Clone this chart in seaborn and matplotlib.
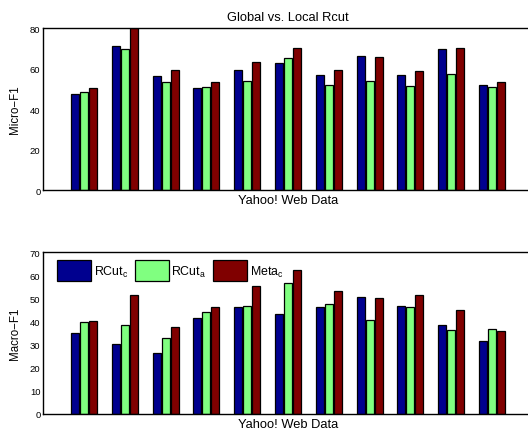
import numpy as np
import pandas as pd
import matplotlib
matplotlib.use('Agg')
import matplotlib.pyplot as plt
import seaborn as sns

# Values (11 Yahoo! web datasets)
datasets = ['D%d' % i for i in range(1, 12)]
methods = ['RCut$_c$', 'RCut$_a$', 'Meta$_c$']

micro_rcut_c = [47.3, 71.4, 56.3, 50.5, 59.6, 62.6, 56.9, 66.1, 56.8, 69.7, 52.1]
micro_rcut_a = [48.6, 70.0, 53.4, 50.8, 53.9, 65.1, 52.1, 53.8, 51.6, 57.6, 50.8]
micro_meta_c = [50.6, 80.0, 59.3, 53.6, 63.4, 70.2, 59.3, 65.6, 58.9, 70.4, 53.3]

macro_rcut_c = [34.9, 30.4, 26.2, 41.7, 46.1, 43.2, 46.4, 50.5, 46.7, 38.3, 31.5]
macro_rcut_a = [39.8, 38.3, 33.0, 44.3, 46.6, 56.7, 47.4, 40.5, 46.1, 36.3, 36.9]
macro_meta_c = [40.4, 51.6, 37.6, 46.1, 55.3, 62.3, 53.1, 50.0, 51.5, 45.0, 35.9]

colors = ['#00008F', '#80FF80', '#800000']

sns.set_style('white')
plt.rcParams['font.family'] = ['Liberation Sans', 'DejaVu Sans']
plt.rcParams['mathtext.fontset'] = 'custom'
plt.rcParams['mathtext.rm'] = 'Liberation Sans'
plt.rcParams['mathtext.it'] = 'Liberation Sans'
plt.rcParams['text.color'] = 'black'
plt.rcParams['axes.labelcolor'] = 'black'
plt.rcParams['ytick.color'] = 'black'
plt.rcParams['ytick.labelcolor'] = 'black'


def long_table(a, b, c):
    rows = []
    for vals, m in zip([a, b, c], methods):
        for d, v in zip(datasets, vals):
            rows.append({'dataset': d, 'method': m, 'value': v})
    return pd.DataFrame(rows)


fig = plt.figure(figsize=(5.28, 4.31), dpi=100)
ax1 = fig.add_axes([0.0818, 0.5568, 0.9273, 0.3752])
ax2 = fig.add_axes([0.0818, 0.0378, 0.9273, 0.3745])

panels = [
    (ax1, long_table(micro_rcut_c, micro_rcut_a, micro_meta_c), 'Micro\u2212F1', 80, 20),
    (ax2, long_table(macro_rcut_c, macro_rcut_a, macro_meta_c), 'Macro\u2212F1', 70, 10),
]

for ax, df, ylab, ymax, step in panels:
    sns.barplot(data=df, x='dataset', y='value', hue='method', palette=colors,
                width=0.66, gap=0.1, edgecolor='black', linewidth=0.9,
                saturation=1, ax=ax)
    ax.set_xlim(-1, 11)
    ax.set_ylim(0, ymax)
    ax.set_yticks(np.arange(0, ymax + 1, step))
    ax.set_xticks([])
    ax.tick_params(axis='y', direction='in', length=3, width=0.8, labelsize=6.8, pad=2)
    ax.set_ylabel(ylab, fontsize=8.3, labelpad=6)
    ax.set_xlabel('Yahoo! Web Data', fontsize=9.3, labelpad=3)
    for s in ax.spines.values():
        s.set_linewidth(1.0)
        s.set_color('black')
    ax.get_legend().remove()

ax1.set_title('Global vs. Local Rcut', fontsize=9.3, pad=6)

handles, labels = ax2.get_legend_handles_labels()
ax2.legend(handles, labels, loc='upper left', ncol=3, frameon=False,
           fontsize=8.9, handlelength=2.75, handleheight=2.2, handletextpad=0.2,
           columnspacing=0.55, borderaxespad=0.25, bbox_to_anchor=(0.012, 1.0))

fig.savefig('out.png', dpi=100)
